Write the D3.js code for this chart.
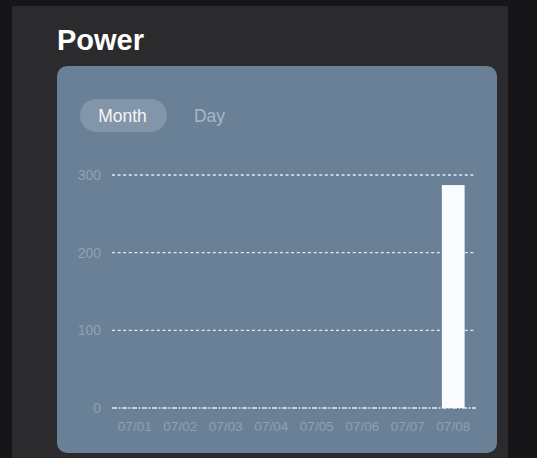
<!DOCTYPE html>
<html>
<head>
<meta charset="utf-8">
<script src="https://cdn.jsdelivr.net/npm/d3@7/dist/d3.min.js"></script>
<style>
  html, body { margin: 0; padding: 0; background: #161618; }
  svg { display: block; }
</style>
</head>
<body>
<svg id="chart" width="537" height="458"></svg>
<script>
// Daily power readings for the month
const days = ["07/01", "07/02", "07/03", "07/04", "07/05", "07/06", "07/07", "07/08"];
const power = [0, 0, 0, 0, 0, 0, 0, 287];
const yTicks = [0, 100, 200, 300];
const tabs = ["Month", "Day"];

const svg = d3.select("#chart");
const font = "'Helvetica Neue', 'Liberation Sans', Arial, sans-serif";

// page backdrop and panel
svg.append("rect").attr("width", 537).attr("height", 458).attr("fill", "#161618");
svg.append("rect").attr("x", 12).attr("y", 6).attr("width", 496).attr("height", 452).attr("fill", "#2b2b2d");

svg.append("text")
  .attr("x", 57).attr("y", 50)
  .attr("fill", "#ffffff")
  .attr("font-family", font)
  .attr("font-weight", 700)
  .attr("font-size", 29)
  .text("Power");

// card
svg.append("rect")
  .attr("x", 57).attr("y", 66).attr("width", 440).attr("height", 387)
  .attr("rx", 10).attr("fill", "#6a8096");

// tab switcher
svg.append("rect")
  .attr("x", 80).attr("y", 99).attr("width", 87).attr("height", 33)
  .attr("rx", 16.5).attr("fill", "#8396a9");
svg.selectAll("text.tab").data(tabs).join("text")
  .attr("class", "tab")
  .attr("x", (d, i) => i === 0 ? 122.5 : 209.5)
  .attr("y", 121.5)
  .attr("text-anchor", "middle")
  .attr("font-family", font)
  .attr("font-size", 17.5)
  .attr("fill", (d, i) => i === 0 ? "#f2f5f8" : "#a8b7c6")
  .text(d => d);

// scales: bands fill the gridline span, bars take half of each step
const x = d3.scaleBand().domain(days).range([112, 476])
  .paddingInner(0.5).paddingOuter(0.25);
const y = d3.scaleLinear().domain([0, 300]).range([408, 175]);

const g = svg.append("g");

// gridlines
g.selectAll("line.grid").data(yTicks).join("line")
  .attr("class", "grid")
  .attr("x1", 112).attr("x2", 476)
  .attr("y1", d => y(d)).attr("y2", d => y(d))
  .attr("stroke", "#e4e9ee")
  .attr("stroke-width", 1.3)
  .attr("stroke-dasharray", d => d === 0 ? "5,1.5,2,1.5" : "3,2.6");

// y labels
g.selectAll("text.ylab").data(yTicks).join("text")
  .attr("class", "ylab")
  .attr("x", 101).attr("y", d => y(d) + 5)
  .attr("text-anchor", "end")
  .attr("font-family", font)
  .attr("font-size", 14)
  .attr("fill", "#8ea1b4")
  .text(d => d);

// bars
g.selectAll("rect.bar").data(days).join("rect")
  .attr("class", "bar")
  .attr("x", d => x(d))
  .attr("width", x.bandwidth())
  .attr("y", (d, i) => y(power[i]))
  .attr("height", (d, i) => y(0) - y(power[i]))
  .attr("fill", "#f9fbfe");

// x axis labels
const xAxis = d3.axisBottom(x).tickSize(0).tickPadding(0);
const ax = g.append("g").attr("transform", "translate(0,421)").call(xAxis);
ax.select(".domain").remove();
ax.selectAll("text")
  .attr("dy", "0.71em")
  .attr("font-family", font)
  .attr("font-size", 13.5)
  .attr("fill", "#8ea1b4");
</script>
</body>
</html>
